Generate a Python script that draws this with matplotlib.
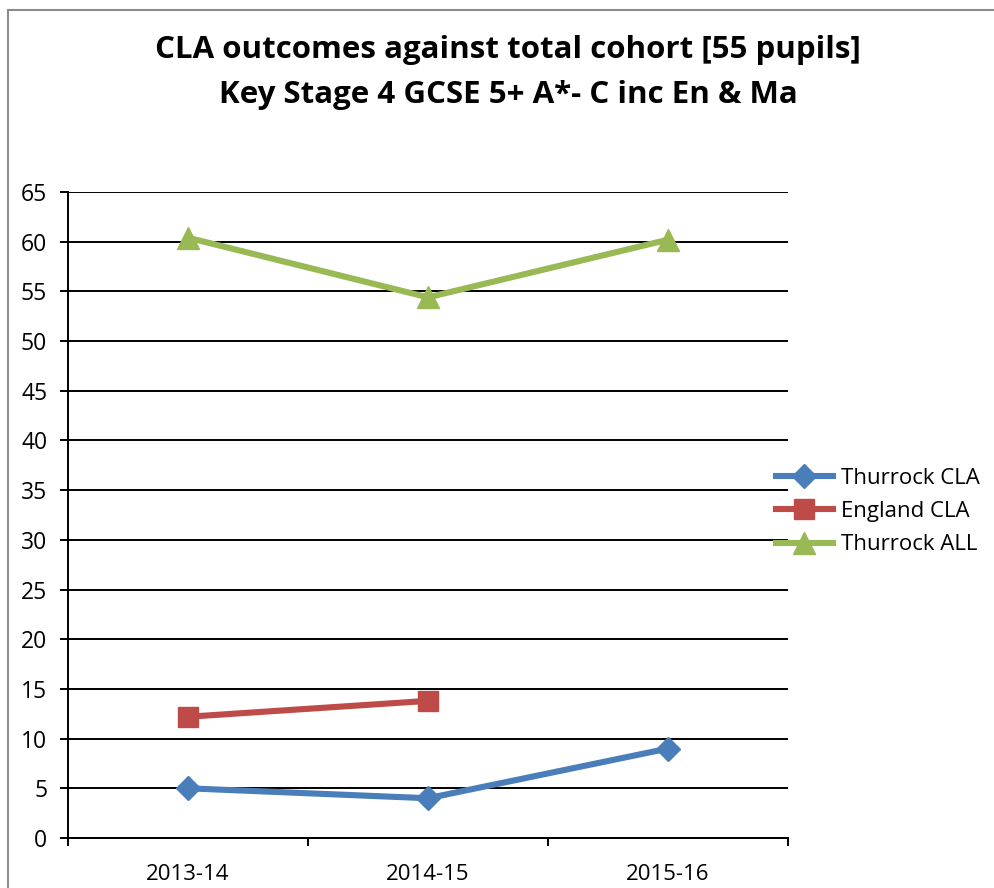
import matplotlib

matplotlib.use("Agg")
import matplotlib.pyplot as plt
from matplotlib.lines import Line2D
from matplotlib.ticker import FixedLocator

plt.rcParams["font.family"] = ["Open Sans", "DejaVu Sans"]

years = ["2013-14", "2014-15", "2015-16"]
thurrock_cla = [5, 4, 9]
england_cla = [12.2, 13.8]
thurrock_all = [60.4, 54.4, 60.2]

W, H = 995, 888
fig = plt.figure(figsize=(W / 100, H / 100), dpi=100)

# chart area border (cropped on right/bottom in the original)
fig.add_artist(Line2D([8 / W, 8 / W], [0, 1 - 10 / H], color="#8c8c8c", lw=1.5,
                      transform=fig.transFigure))
fig.add_artist(Line2D([8 / W, 1], [1 - 10 / H, 1 - 10 / H], color="#8c8c8c", lw=1.5,
                      transform=fig.transFigure))

ax = fig.add_axes([68 / W, (H - 838) / H, 720 / W, 646 / H])

x = range(len(years))
ax.plot(x, thurrock_cla, color="#4A7EBB", lw=4.4, marker="D", ms=12,
        label="Thurrock CLA", zorder=3)
ax.plot(range(len(england_cla)), england_cla, color="#BE4B48", lw=4.4, marker="s",
        ms=14, label="England CLA", zorder=3)
ax.plot(x, thurrock_all, color="#98B954", lw=4.4, marker="^", ms=16,
        label="Thurrock ALL", zorder=3)

ax.set_xlim(-0.5, 2.5)
ax.set_ylim(0, 65)
ax.set_yticks(range(0, 66, 5))
ax.yaxis.grid(True, color="black", lw=1.4)
ax.set_axisbelow(True)
for s in ["top", "right"]:
    ax.spines[s].set_visible(False)
for s in ["left", "bottom"]:
    ax.spines[s].set_linewidth(1.4)

ax.set_xticks(list(x))
ax.set_xticklabels(years)
ax.xaxis.set_minor_locator(FixedLocator([-0.5, 0.5, 1.5, 2.5]))
ax.tick_params(axis="x", which="major", length=0, pad=19, labelsize=16)
ax.tick_params(axis="x", which="minor", length=6, width=1.4, direction="out")
ax.tick_params(axis="y", length=6, width=1.4, pad=9, labelsize=16.5)

ax.legend(loc="center left", bbox_to_anchor=(0.955, 0.505), frameon=False,
          fontsize=16, handlelength=2.6, labelspacing=0.55, handletextpad=0.35)

fig.text(508 / W, 1 - 50 / H, "CLA outcomes against total cohort [55 pupils]",
         ha="center", va="center", fontsize=22.5, fontweight="bold")
fig.text(508 / W, 1 - 95 / H, "Key Stage 4 GCSE 5+ A*- C inc En & Ma",
         ha="center", va="center", fontsize=22.5, fontweight="bold")

fig.savefig("out.png", dpi=100)
